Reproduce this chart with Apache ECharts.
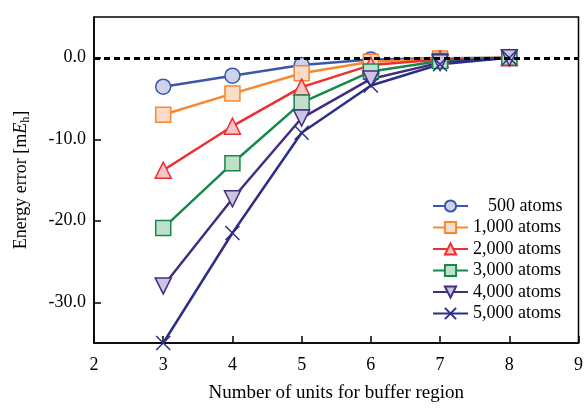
<!DOCTYPE html>
<html>
<head>
<meta charset="utf-8">
<script src="https://cdn.jsdelivr.net/npm/echarts@6/dist/echarts.min.js"></script>
<style>
	html, body { margin: 0; padding: 0; background: #fff; }
	#chart { width: 586px; height: 408px; }
</style>
</head>
<body>
<div id="chart"></div>
<script>
	// 数据
	var units = [3, 4, 5, 6, 7, 8];
	var names = ['500 atoms', '1,000 atoms', '2,000 atoms', '3,000 atoms', '4,000 atoms', '5,000 atoms'];
	var err500 = [-3.55, -2.2, -0.9, -0.2, -0.05, 0];
	var err1000 = [-7.0, -4.4, -1.9, -0.5, -0.1, 0];
	var err2000 = [-13.8, -8.4, -3.6, -0.9, -0.2, 0];
	var err3000 = [-20.9, -12.95, -5.5, -1.7, -0.4, 0];
	var err4000 = [-28.0, -17.3, -7.4, -2.6, -0.6, 0];
	var err5000 = [-35.0, -21.5, -9.2, -3.4, -0.8, 0];
	var zeroLine = 0;

	var font = '"Liberation Serif", "Times New Roman", serif';

	function pairs(ys) {
		return units.map(function(x, i) {
			return [x, ys[i]];
		});
	}

	function mkSeries(name, ys, lineColor, fill, border, symbol, size, rotate) {
		return {
			name: name,
			type: 'line',
			data: pairs(ys),
			symbol: symbol,
			symbolSize: size,
			symbolRotate: rotate || 0,
			showAllSymbol: true,
			lineStyle: { color: lineColor, width: 2.5 },
			itemStyle: { color: fill, borderColor: border, borderWidth: 1.5, opacity: 1 },
			emphasis: { disabled: true }
		};
	}

	var chart = echarts.init(document.getElementById('chart'));
	var option = {
		animation: false,
		grid: {
			left: 94,
			right: 2,
			top: 17,
			bottom: 65,
			show: true,
			borderColor: '#000',
			borderWidth: 1.5
		},
		legend: {
			orient: 'vertical',
			left: 427,
			top: 192,
			itemWidth: 35,
			itemHeight: 14,
			itemGap: 3.5,
			data: names,
			formatter: function(name) {
				return name === '500 atoms' ? '{pad|}' + name : name;
			},
			textStyle: {
				fontFamily: font,
				fontSize: 18,
				lineHeight: 18,
				color: '#000',
				rich: {
					pad: { width: 15 }
				}
			}
		},
		xAxis: {
			type: 'value',
			min: 2,
			max: 9,
			interval: 1,
			name: 'Number of units for buffer region',
			nameLocation: 'middle',
			nameGap: 41,
			nameTextStyle: { fontFamily: font, fontSize: 19, color: '#000' },
			axisLine: { onZero: false, lineStyle: { color: '#000', width: 1.5 } },
			axisTick: { inside: true, length: 7, lineStyle: { color: '#000', width: 1.5 } },
			axisLabel: { margin: 13, fontFamily: font, fontSize: 18, color: '#000' },
			splitLine: { show: false }
		},
		yAxis: {
			type: 'value',
			min: -35,
			max: 5,
			name: 'Energy error [m{i|E}{s|h}]',
			nameLocation: 'middle',
			nameGap: 62,
			nameTextStyle: {
				fontFamily: font,
				fontSize: 18,
				color: '#000',
				lineHeight: 22,
				rich: {
					i: { fontFamily: font, fontSize: 18, fontStyle: 'italic', color: '#000', lineHeight: 22 },
					s: { fontFamily: font, fontSize: 12, color: '#000', lineHeight: 12, verticalAlign: 'bottom' }
				}
			},
			axisLine: { onZero: false, lineStyle: { color: '#000', width: 1.5 } },
			axisTick: { inside: true, length: 7, lineStyle: { color: '#000', width: 1.5 } },
			axisLabel: {
				margin: 8,
				fontFamily: font,
				fontSize: 18,
				color: '#000',
				showMinLabel: false,
				showMaxLabel: false,
				formatter: function(v) {
					return v % 10 === 0 ? v.toFixed(1) : '';
				}
			},
			splitLine: { show: false }
		},
		series: [
			mkSeries(names[0], err500, '#3b57a7', '#cdd3ea', '#3b57a7', 'circle', 15),
			mkSeries(names[1], err1000, '#f7882f', '#fbdcc6', '#f7882f', 'rect', 15),
			mkSeries(names[2], err2000, '#ee2e31', '#f7c6c8', '#ee2e31', 'triangle', 16),
			mkSeries(names[3], err3000, '#14894a', '#c0e0cb', '#14894a', 'rect', 15),
			mkSeries(names[4], err4000, '#432d83', '#cbc5e2', '#432d83', 'triangle', 16, 180),
			mkSeries(names[5], err5000, '#2b2f86', 'rgba(0,0,0,0)', '#2b2f86', 'path://M0,0L10,10M10,0L0,10', 14),
			{
				name: 'zero',
				type: 'line',
				data: [],
				z: 5,
				markLine: {
					silent: true,
					symbol: 'none',
					label: { show: false },
					lineStyle: { color: '#000', type: [6, 4], width: 3 },
					data: [{ yAxis: zeroLine }]
				}
			}
		]
	};
	chart.setOption(option);
</script>
</body>
</html>
